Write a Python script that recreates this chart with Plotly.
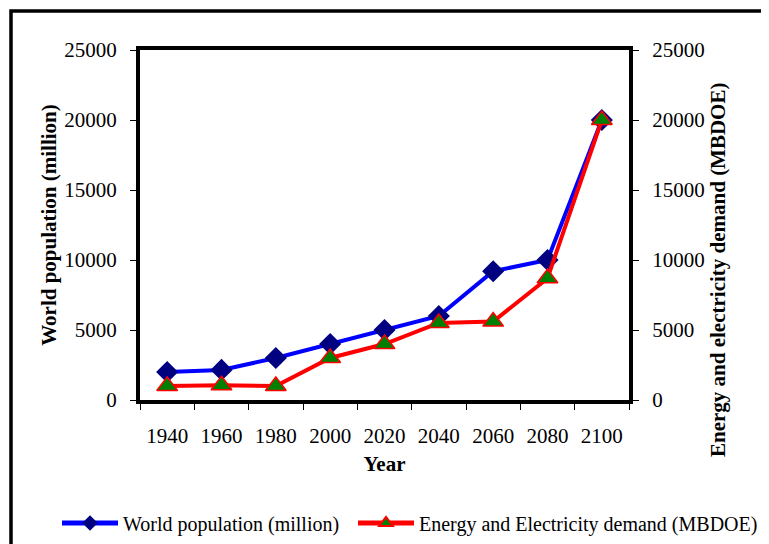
import plotly.graph_objects as go

years = ["1940", "1960", "1980", "2000", "2020", "2040", "2060", "2080", "2100"]
population = [2000, 2150, 3000, 4000, 5000, 6000, 9200, 10000, 20000]
energy = [1000, 1050, 1000, 3000, 4000, 5500, 5600, 8700, 20000]
y_ticks = [0, 5000, 10000, 15000, 20000, 25000]

FONT = "Liberation Serif, Times New Roman, serif"

fig = go.Figure()
fig.add_trace(go.Scatter(
    x=years, y=population, name="World population (million)",
    mode="lines+markers",
    line=dict(color="#0000FF", width=4),
    marker=dict(symbol="diamond", size=17, color="#000080"),
    yaxis="y", legend="legend",
))
fig.add_trace(go.Scatter(
    x=years, y=energy, name="Energy and Electricity demand (MBDOE)",
    mode="lines+markers",
    line=dict(color="#FF0000", width=4),
    marker=dict(symbol="triangle-up", size=18, color="#008000",
                line=dict(color="#FF0000", width=1.5)),
    yaxis="y2", legend="legend2",
))

W, H = 769, 544
OFF = 8  # page body margin in the browser
# plot area in screen (reference) pixels
SL, SR, ST, SB = 140, 629, 50, 400
L, R, T, B = SL - OFF, SR - OFF, ST - OFF, SB - OFF

def px(x):
    return (x - SL) / (SR - SL)

def py(y):
    return (SB - y) / (SB - ST)

leg_common = dict(orientation="h", xanchor="left", yanchor="middle",
                  font=dict(size=20, family=FONT), itemsizing="constant",
                  bgcolor="rgba(0,0,0,0)", itemwidth=56)

fig.update_layout(
    width=W, height=H,
    margin=dict(l=L, r=W - R, t=T, b=H - B, autoexpand=False),
    paper_bgcolor="white", plot_bgcolor="white",
    font=dict(family=FONT, color="black", size=21),
    showlegend=True,
    legend=dict(x=px(57), y=py(523), **leg_common),
    legend2=dict(x=px(353), y=py(523), **leg_common),
    xaxis=dict(
        type="category", range=[-0.5, 8.5],
        showline=True, linewidth=4, linecolor="black", mirror=True,
        ticks="outside", ticklen=6, tickwidth=1, tickcolor="black",
        tickson="boundaries", showgrid=False, zeroline=False,
        ticklabelstandoff=14,
        tickfont=dict(size=21),
        title=dict(text="<b>Year</b>", font=dict(size=21), standoff=10),
    ),
    yaxis=dict(
        range=[0, 25000], tickvals=y_ticks, ticktext=[str(v) for v in y_ticks],
        showline=True, linewidth=4, linecolor="black", mirror=True,
        ticks="outside", ticklen=6, tickwidth=1, tickcolor="black",
        ticklabelstandoff=9,
        showgrid=False, zeroline=False,
        tickfont=dict(size=21),
        title=dict(text="<b>World population (million)</b>", font=dict(size=21), standoff=3),
    ),
    yaxis2=dict(
        range=[0, 25000], tickvals=y_ticks, ticktext=[str(v) for v in y_ticks],
        overlaying="y", side="right",
        showline=True, linewidth=4, linecolor="black",
        ticks="outside", ticklen=6, tickwidth=1, tickcolor="black",
        ticklabelstandoff=9,
        showgrid=False, zeroline=False,
        tickfont=dict(size=21),
    ),
    annotations=[dict(
        text="<b>Energy and electricity demand (MBDOE)</b>",
        xref="paper", yref="paper", x=px(718), y=py(270),
        textangle=-90, showarrow=False, font=dict(size=21),
        xanchor="center", yanchor="middle",
    )],
    shapes=[dict(
        type="rect", xref="paper", yref="paper",
        x0=px(11), x1=px(790), y0=py(11), y1=py(580),
        line=dict(color="black", width=3.5), fillcolor="rgba(0,0,0,0)", layer="below",
    )],
)

fig.write_html("out.html")
